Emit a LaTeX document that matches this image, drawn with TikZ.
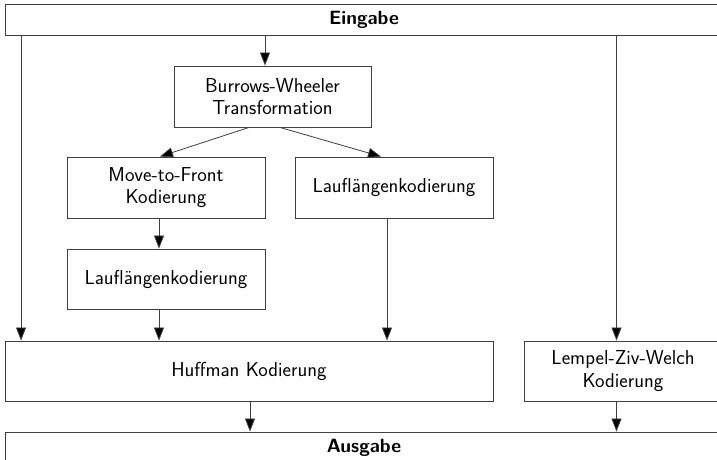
\documentclass[tikz,border=0pt]{standalone}
\usetikzlibrary{arrows.meta}
\begin{document}
\begin{tikzpicture}[x=1bp,y=-1bp,
  txt/.style={font=\sffamily\fontsize{20.2bp}{22.5bp}\selectfont},
  box/.style={txt, draw=black!75, line width=0.9bp, minimum width=198bp, minimum height=61bp, inner sep=0pt, align=center},
  wide/.style={draw=black!75, line width=0.9bp, minimum width=718bp, minimum height=31bp, inner sep=0pt, font=\sffamily\bfseries\fontsize{19.2bp}{22bp}\selectfont},
  arr/.style={draw=black!75, line width=0.8bp, -{Triangle[length=13bp,width=10bp,fill=black]}}]
\useasboundingbox (0,0) rectangle (717,460);
\clip (0,0) rectangle (717,460);
\node[wide] (ein) at (364,19.5) {Eingabe};
\node[box, minimum width=197bp] (bwt) at (272.5,96.5) {Burrows-Wheeler\\Transformation};
\node[box] (mtf) at (166,187.5) {Move-to-Front\\Kodierung};
\node[box] (llkr) at (394,187.5) {Laufl\"angenkodierung};
\node[box, minimum height=60bp] (llk) at (166,279) {Laufl\"angenkodierung};
\node[box, minimum width=488bp, minimum height=60bp] (huf) at (249,371) {Huffman Kodierung};
\node[box, minimum height=60bp] (lzw) at (623,371) {Lempel-Ziv-Welch\\Kodierung};
\node[wide] (aus) at (364,447.5) {Ausgabe};
% connectors
\coordinate (c1) at ([xshift=16.5bp]huf.north west);
\draw[arr] (c1 |- ein.south) -- (c1);
\coordinate (c2) at ([xshift=-7.5bp]bwt.north);
\draw[arr] (c2 |- ein.south) -- (c2);
\coordinate (c3) at ([xshift=-6.5bp]lzw.north);
\draw[arr] (c3 |- ein.south) -- (c3);
\draw[arr] ([xshift=-23.5bp]bwt.south) -- ([xshift=-6bp]mtf.north);
\draw[arr] ([xshift=7.5bp]bwt.south) -- ([xshift=-13bp]llkr.north);
\draw[arr] ([xshift=-7bp]mtf.south) -- ([xshift=-7bp]llk.north);
\coordinate (c7) at ([xshift=-7bp]llk.south);
\draw[arr] (c7) -- (c7 |- huf.north);
\coordinate (c8) at ([xshift=-7bp]llkr.south);
\draw[arr] (c8) -- (c8 |- huf.north);
\coordinate (c9) at ([xshift=1bp]huf.south);
\draw[arr] (c9) -- (c9 |- aus.north);
\coordinate (c10) at ([xshift=-6.5bp]lzw.south);
\draw[arr] (c10) -- (c10 |- aus.north);
\end{tikzpicture}
\end{document}
